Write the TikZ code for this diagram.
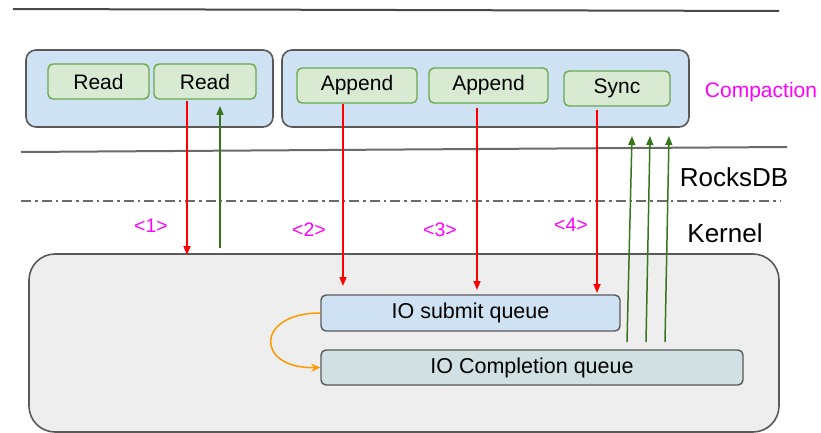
\documentclass[tikz,border=0pt]{standalone}
\usepackage{fontspec}
\setmainfont{Liberation Sans}
\usetikzlibrary{arrows.meta}
\definecolor{frame}{HTML}{595959}
\definecolor{layerblue}{HTML}{CFE2F3}
\definecolor{opgreen}{HTML}{D9EAD3}
\definecolor{opedge}{HTML}{6AA84F}
\definecolor{kernelgray}{HTML}{EEEEEE}
\definecolor{complfill}{HTML}{D0E0E3}
\definecolor{callred}{HTML}{FF0000}
\definecolor{retgreen}{HTML}{38761D}
\definecolor{flow}{HTML}{FF9900}
\definecolor{tagpink}{HTML}{FF00FF}
\tikzset{
  layerbox/.style={draw=frame, fill=layerblue, line width=1.6pt, rounded corners=10pt, inner sep=0pt},
  opbox/.style={draw=opedge, fill=opgreen, line width=1.4pt, rounded corners=5pt, inner sep=0pt,
    font=\fontsize{21}{25}\selectfont},
  queuebox/.style={draw=frame, line width=1.4pt, rounded corners=5pt, inner sep=0pt,
    font=\fontsize{21.5}{25}\selectfont},
  levelname/.style={font=\fontsize{26}{30}\selectfont, inner sep=0pt},
  steptag/.style={text=tagpink, font=\fontsize{19.5}{23}\selectfont, inner sep=0pt},
  callarrow/.style={draw=callred, line width=1.6pt, -{Triangle[length=9pt,width=7pt]}},
  retarrow/.style={draw=retgreen, line width=1.5pt, -{Triangle[length=9pt,width=7pt]}},
  divider/.style={draw=frame!90, line width=2pt},
}
\begin{document}
\begin{tikzpicture}[x=1pt, y=-1pt]
\useasboundingbox (0,0) rectangle (821,433);

% layer separators
\draw[divider, draw=frame!80!black] (13,9) -- (779,11);
\draw[divider] (21,152) -- (787,147);
\draw[divider, dash pattern=on 10pt off 4pt on 2.5pt off 4pt] (21,201) -- (781,201);

% kernel area
\node[draw=frame, fill=kernelgray, line width=1.6pt, rounded corners=26pt, inner sep=0pt,
      minimum width=750pt, minimum height=178pt] (kernel) at (404,343) {};

% user-space groups
\node[layerbox, minimum width=247pt, minimum height=77pt] (readgrp) at (149.5,88.5) {};
\node[layerbox, minimum width=407pt, minimum height=77pt] (appgrp) at (485.5,88.5) {};

\node[opbox, minimum width=101pt, minimum height=35pt] (read1) at (98.5,81.5) {Read};
\node[opbox, minimum width=102pt, minimum height=35pt] (read2) at (205,81.5) {Read};
\node[opbox, minimum width=120pt, minimum height=35pt] (app1) at (357,85.5) {Append};
\node[opbox, minimum width=119pt, minimum height=35pt] (app2) at (488.5,85.5) {Append};
\node[opbox, minimum width=106pt, minimum height=35pt] (sync) at (617,88.5) {Sync};

% io_uring queues
\node[queuebox, fill=layerblue, minimum width=299pt, minimum height=36pt] (submit) at (470.5,313) {IO submit queue};
\node[queuebox, fill=complfill, minimum width=422pt, minimum height=35pt] (compl) at (532,367.5) {IO Completion queue};

% labels
\node[text=tagpink, font=\fontsize{21}{25}\selectfont, inner sep=0pt] (comp) at (761,92) {Compaction};
\node[levelname] (rocks) at (734,177) {RocksDB};
\node[levelname] (kern) at (725,233) {Kernel};
\node[steptag] (s1) at (151,226) {<1>};
\node[steptag] (s2) at (309,230) {<2>};
\node[steptag] (s3) at (440,230) {<3>};
\node[steptag] (s4) at (571,225) {<4>};

% connector end points
\coordinate (r1a) at (187,101);
\coordinate (r1b) at (187,255);
\coordinate (r2a) at (220,248);
\coordinate (r2b) at (220,106);
\coordinate (a1a) at (343,104);
\coordinate (a1b) at (343,286);
\coordinate (a2a) at (477,108);
\coordinate (a2b) at (477,290);
\coordinate (sya) at (597,110);
\coordinate (syb) at (597,293);
\coordinate (c1a) at (627,342);
\coordinate (c1b) at (632,136);
\coordinate (c2a) at (646,342);
\coordinate (c2b) at (650,136);
\coordinate (c3a) at (665,342);
\coordinate (c3b) at (669,136);

\draw[callarrow] (r1a) -- (r1b);
\draw[retarrow] (r2a) -- (r2b);
\draw[callarrow] (a1a) -- (a1b);
\draw[callarrow] (a2a) -- (a2b);
\draw[callarrow] (sya) -- (syb);
\draw[retarrow] (c1a) -- (c1b);
\draw[retarrow] (c2a) -- (c2b);
\draw[retarrow] (c3a) -- (c3b);

% submission to completion
\draw[draw=flow, line width=1.5pt, -{Stealth[length=9pt,width=8pt]}]
  (submit.west) .. controls (255,313) and (255,369) .. (compl.west);
\end{tikzpicture}
\end{document}
